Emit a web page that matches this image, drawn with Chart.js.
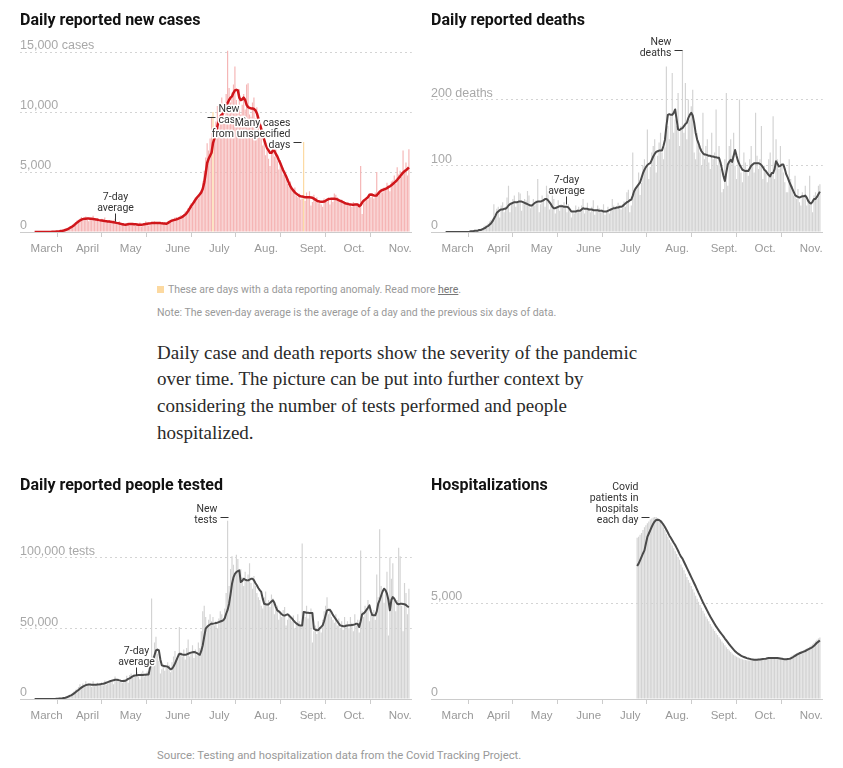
<!DOCTYPE html>
<html>
<head>
<meta charset="utf-8">
<script src="https://cdn.jsdelivr.net/npm/chart.js@4.4.0/dist/chart.umd.min.js"></script>
<style>
  body { margin: 0; width: 843px; height: 768px; position: relative; overflow: hidden; background: #fff; font-family: Roboto, "Liberation Sans", sans-serif; }
  canvas { position: absolute; }
  .title { position: absolute; font-weight: 700; font-size: 16px; line-height: 16px; color: #121212; z-index: 2; }
  .small { position: absolute; left: 157px; font-size: 10.5px; line-height: 12px; color: #999; white-space: nowrap; }
  .small u { color: #777; }
  .swatch { display: inline-block; width: 7px; height: 7px; background: #fcd9a0; margin-right: 4px; vertical-align: 0; }
  .para { position: absolute; left: 157px; top: 339.5px; font-family: "Liberation Serif", serif; font-size: 19px; line-height: 26.7px; color: #2a2a2a; white-space: nowrap; }
</style>
</head>
<body>

<canvas id="cases" width="421" height="262" style="left:0;top:0"></canvas>
<canvas id="deaths" width="421" height="262" style="left:411px;top:0"></canvas>
<canvas id="tests" width="421" height="262" style="left:0;top:467px"></canvas>
<canvas id="hosp" width="421" height="262" style="left:411px;top:467px"></canvas>

<div class="title" style="left:20px;top:12px">Daily reported new cases</div>
<div class="title" style="left:431px;top:12px">Daily reported deaths</div>
<div class="title" style="left:20px;top:477px">Daily reported people tested</div>
<div class="title" style="left:431px;top:477px">Hospitalizations</div>

<div class="small" style="top:284px"><span class="swatch"></span>These are days with a data reporting anomaly. Read more <u>here</u>.</div>
<div class="small" style="top:307px">Note: The seven-day average is the average of a day and the previous six days of data.</div>
<div class="para">Daily case and death reports show the severity of the pandemic<br>over time. The picture can be put into further context by<br>considering the number of tests performed and people<br>hospitalized.</div>
<div class="small" style="top:749.5px;font-size:11.3px">Source: Testing and hospitalization data from the Covid Tracking Project.</div>

<script>
// day 0 = March 1, last day = Nov. 12
const monthStarts = [0, 31, 61, 92, 122, 153, 184, 214, 245];
const monthLabels = ["March", "April", "May", "June", "July", "Aug.", "Sept.", "Oct.", "Nov."];

// ---------- CASES ----------
const caseTicks = [0, 5000, 10000, 15000];
const caseTickLabels = ["0", "5,000", "10,000", "15,000 cases"];
const caseAnomalyDays = [122, 184];
const caseDaily = [
  0,0,0,0,0,0,0,0,0,10,20,10,30,40,40,60,70,90,120,160,210,250,300,380,450,520,600,700,800,950,1020, // Mar
  1100,1250,980,1150,1300,1050,900,1200,1100,1350,950,1000,1150,850,1050,1100,900,1200,800,950,1000,780,900,950,1100,700,800,900,650,750, // Apr
  700,500,650,800,550,700,750,600,500,700,650,800,450,550,700,900,600,550,750,850,700,900,650,800,750,850,700,650,800,600,750, // May
  900,1000,1100,950,1200,1250,1100,1300,1400,1200,1500,1700,1650,2000,2200,2400,2100,2600,2900,3000,2800,3300,3500,4200,5100,6200,7400,6800,7800,9600, // Jun
  10000,8500,9200,10500,8700,9800,11200,10400,9600,11500,15100,12000,10800,11600,12300,13800,11000,10500,11900,9800,10600,11500,10200,12300,12400,9800,9600,10800,11200,9500,10400, // Jul
  9700,8000,8900,7200,7600,6400,7000,6100,5500,6800,7400,6300,6900,5900,5200,6000,5400,4800,5100,4400,4000,3800,4200,3500,3300,3700,3000,2900,3200,2700,2800, // Aug
  7500,2600,3300,2900,3400,2200,2500,3100,2700,2900,2400,2600,2300,2100,2800,2600,2500,2900,2300,2700,2500,3200,3100,2900,2600,2500,2700,2400,2500,2300, // Sep
  2300,2400,2200,2100,2500,2300,2400,2200,2100,5500,1500,2400,2600,2800,2700,3100,2900,3200,2800,3300,5000,3000,3400,3600,3300,3700,3500,4100,3800,3400,4200, // Oct
  4300,4700,4000,5400,4800,5100,4600,6800,5200,5800,4700,6900 // Nov
];
const caseAvg = [
  0,0,0,0,0,0,0,0,0,0,10,10,20,20,30,40,50,60,80,100,130,170,210,260,330,400,480,570,680,780,880,
  960,1030,1070,1100,1110,1120,1120,1110,1100,1090,1070,1050,1020,990,970,950,930,910,900,880,870,850,830,810,790,760,740,710,680,650,
  620,610,630,650,660,670,660,650,640,620,600,600,610,620,640,660,680,700,720,740,750,760,760,750,740,740,720,710,700,690,740,
  820,900,950,990,1020,1050,1100,1150,1200,1260,1350,1450,1580,1750,1950,2140,2320,2500,2700,2850,3000,3150,3300,3600,4100,4900,5750,6100,6350,6600,
  7400,7800,8250,8800,9350,9600,9800,9900,10200,10450,10750,11000,11200,11300,11600,11800,11850,11800,11200,11000,11050,11200,11000,10600,10400,10350,10300,10300,10250,10150,9900,
  9500,9000,8600,8100,7700,7300,7000,6800,6600,6600,6800,6750,6500,6300,6000,5750,5450,5150,4900,4650,4350,4050,3800,3600,3450,3300,3200,3100,3020,2970,2950,
  2930,2900,2900,2890,2890,2880,2850,2780,2700,2620,2560,2540,2530,2530,2540,2600,2680,2740,2760,2780,2780,2770,2760,2720,2650,2600,2550,2480,2420,2380,
  2350,2320,2300,2280,2280,2290,2300,2290,2150,2250,2450,2600,2700,2800,2900,3100,3120,3100,3050,3030,3050,3200,3350,3450,3500,3550,3600,3650,3750,3800,3900,
  4000,4100,4220,4350,4500,4640,4800,4950,5060,5150,5250,5390
];

// ---------- DEATHS ----------
const deathTicks = [0, 100, 200];
const deathTickLabels = ["0", "100", "200 deaths"];
const deathDaily = [
  0,0,0,0,0,0,0,0,0,0,0,0,0,0,0,0,0,1,0,2,1,3,2,4,3,6,8,10,9,13,16,
  18,20,42,28,35,38,22,40,45,30,38,52,70,30,42,50,55,38,45,60,58,32,44,50,48,62,55,36,40,50,
  40,48,80,30,42,55,50,38,70,62,34,40,58,50,28,36,48,32,42,40,45,38,30,42,36,22,30,28,40,34,38,
  30,40,50,28,34,44,36,30,38,48,26,32,40,36,30,34,42,26,30,38,28,34,50,40,36,38,44,40,34,42,
  46,38,60,64,30,40,120,58,68,70,90,56,74,100,110,96,155,80,98,120,130,140,90,115,135,150,120,110,128,250,160,
  140,175,240,150,170,160,210,130,160,275,150,225,140,200,170,190,215,120,110,150,130,120,100,180,110,130,140,105,95,150,110,
  120,185,100,130,95,60,65,110,210,70,130,140,115,150,100,80,110,200,90,75,120,105,95,85,110,130,100,90,180,115,
  95,110,160,80,100,90,75,110,120,85,175,80,140,110,95,130,100,90,75,60,60,110,80,70,55,85,50,65,45,40,60,
  55,70,40,50,85,45,30,55,60,50,70,72
];
const deathAvg = [
  0,0,0,0,0,0,0,0,0,0,0,0,0,0,0,0,0,1,1,1,2,2,2,3,3,4,5,6,8,9,11,
  13,16,20,24,29,31,33,34,34,35,35,37,40,42,43,44,45,45,45,46,46,46,45,44,43,42,41,40,40,42,
  44,45,46,46,46,47,48,50,50,48,45,42,38,36,36,37,38,39,39,39,38,38,38,37,34,31,31,31,31,32,32,
  32,34,36,35,35,35,34,34,34,33,33,33,33,32,32,32,31,31,31,32,33,34,35,36,36,37,37,38,38,39,
  41,43,45,46,48,49,55,62,66,69,72,75,82,89,94,98,101,103,104,109,114,118,121,122,123,123,123,130,139,160,177,
  178,177,177,180,185,170,155,154,156,157,160,163,165,172,177,180,176,165,150,140,134,127,122,119,117,117,116,115,115,114,114,
  113,113,112,112,105,95,85,77,90,102,106,109,106,115,124,115,107,102,98,94,93,92,92,92,96,100,102,104,104,104,
  104,103,101,98,94,92,89,86,84,89,89,95,107,103,99,100,102,102,95,87,82,76,71,66,61,56,54,53,52,53,54,
  54,55,52,47,44,43,46,50,50,53,57,61
];

// ---------- TESTS ----------
const testTicks = [0, 50000, 100000];
const testTickLabels = ["0", "50,000", "100,000 tests"];
const testDaily = [
  0,0,0,0,0,0,0,0,0,0,0,0,0,0,100,200,300,400,600,800,1000,1500,2000,2500,3000,3800,4500,5500,6500,7200,8500,
  10500,9000,11000,8500,12500,9500,11000,10000,8500,12500,9000,10500,11500,9000,10500,12000,9500,13000,10000,11000,13500,12000,14000,10500,16000,13500,14500,12000,13500,11500,
  14000,13000,16500,11500,17000,18000,15000,17500,15500,19000,16000,14000,18500,20000,16000,18000,19500,17000,22000,71000,30000,40000,44000,32000,27000,18000,21000,24000,20000,22000,26000,
  24000,19000,26000,30000,34000,28000,32000,51000,33000,30000,35000,28000,36000,42000,30000,33000,38000,29000,35000,31000,40000,36000,48000,62000,66000,58000,52000,56000,60000,55000,
  58000,52000,55000,50000,57000,62000,60000,55000,64000,75000,126000,80000,92000,101000,95000,88000,102000,99000,90000,92000,86000,80000,90000,84000,88000,96000,82000,78000,87000,80000,75000,
  72000,70000,66000,64000,72000,76000,68000,70000,65000,74000,71000,60000,64000,66000,56000,62000,58000,63000,65000,52000,56000,60000,57000,55000,59000,50000,54000,60000,55000,52000,110000,
  62000,58000,66000,57000,60000,64000,40000,48000,52000,46000,55000,50000,47000,56000,62000,66000,72000,60000,64000,58000,56000,54000,60000,52000,57000,50000,55000,49000,58000,53000,
  55000,50000,58000,54000,48000,60000,52000,56000,47000,105000,62000,58000,66000,62000,70000,55000,60000,58000,63000,56000,88000,72000,120000,80000,74000,68000,78000,90000,45000,100000,85000,
  96000,72000,62000,70000,107000,101000,66000,48000,82000,75000,60000,78000
];
const testAvg = [
  0,0,0,0,0,0,0,0,0,0,0,0,0,0,0,100,200,300,400,500,700,900,1200,1700,2200,2600,3200,4000,4800,5600,6400,
  7300,8000,8700,9300,9800,10100,10200,10200,10100,10000,10000,10100,10200,10300,10500,10700,10800,11100,11500,11900,12300,12700,13000,13300,13600,13700,13500,13200,12900,12700,
  12700,12900,13500,14200,14600,15300,16000,16500,16700,16800,16900,17000,17000,17000,17100,17200,17300,17400,22600,25000,27300,31000,34400,35000,34400,28000,23800,23500,23200,23100,22800,
  22000,21000,21500,23000,25000,27500,30000,32000,31800,31500,31300,31300,31500,32000,32500,32800,33000,33200,33000,32500,31800,31300,34000,38000,44000,49700,51000,52000,52700,53300,
  53300,53500,53800,54000,54400,54800,55200,55600,57000,60300,63000,67400,74000,81500,86000,88500,89800,90500,91000,82700,83500,85100,84500,84000,83900,84500,85000,85100,84000,82000,80400,
  78500,77000,75700,71000,67400,67000,66800,66900,68000,69000,69800,68000,65000,62700,62000,61000,60000,59200,59000,59500,59900,59000,58000,57000,55600,54500,53500,52800,52100,52000,52000,
  61500,61300,61000,61000,60900,60800,60800,49700,49000,48600,48800,50000,51000,52100,55000,59000,62700,63200,63000,61500,59500,58000,56500,55000,53500,52100,51800,51500,51500,51800,
  52000,52100,52100,52300,52500,52800,53300,53000,50900,55000,59900,60500,61500,63000,64500,66200,62000,59200,59200,59200,62000,67400,70000,73000,76000,78000,77000,74500,70000,62700,70000,
  72100,71000,69000,67400,67000,67300,67400,67200,67000,66500,65500,65000
];

// ---------- HOSPITALIZATIONS (from July 10) ----------
const hospStart = 131;
const hospTicks = [0, 5000];
const hospTickLabels = ["0", "5,000"];
const hospDaily = [
  8400,8450,8550,8650,8800,8950,9050,9150,9250,9350,
  9400,9450,9480,9480,9420,9350,9250,9100,8950,8800,
  8600,8450,8300,8150,8000,7850,7700,7550,7400,7250,
  7000,6850,6700,6520,6350,6200,6050,5880,5720,5550,
  5380,5220,5060,4900,4750,4600,4450,4300,4180,4050,
  3900,3780,3660,3540,3430,3330,3220,3110,3000,2900,
  2800,2700,2610,2530,2450,2370,2300,2250,2200,2160,
  2120,2090,2070,2050,2030,2020,2010,2010,2010,2020,
  2040,2050,2060,2070,2080,2090,2100,2110,2120,2130,
  2140,2140,2130,2130,2120,2110,2100,2090,2080,2070,
  2060,2060,2080,2100,2140,2200,2260,2310,2350,2390,
  2420,2450,2480,2510,2550,2590,2630,2670,2720,2780,
  2850,2930,3010,3090,3150,3200
];
const hospAvg = [
  6930,7050,7220,7400,7580,7740,8100,8440,8620,8800,
  8970,9130,9250,9320,9340,9320,9270,9180,9080,8960,
  8820,8670,8520,8400,8270,8140,8020,7870,7720,7560,
  7410,7310,7150,6990,6830,6670,6510,6350,6190,6030,
  5870,5700,5530,5370,5200,5040,4890,4740,4590,4440,
  4300,4170,4040,3910,3780,3670,3560,3460,3360,3260,
  3150,3050,2950,2850,2750,2660,2570,2490,2420,2360,
  2310,2260,2220,2190,2160,2130,2110,2090,2070,2060,
  2050,2050,2050,2060,2060,2070,2080,2090,2100,2120,
  2130,2140,2140,2140,2140,2140,2130,2120,2110,2100,
  2080,2070,2070,2080,2090,2110,2150,2200,2250,2300,
  2340,2380,2410,2440,2470,2500,2540,2580,2620,2660,
  2710,2770,2850,2930,2990,3050
];

// ---------- ANNOTATIONS ----------
const notePlugin = {
  id: "notes",
  afterDatasetsDraw(chart, args, opts) {
    const { ctx } = chart;
    const xs = chart.scales.x, ys = chart.scales.y;
    ctx.save();
    ctx.font = "10.5px Roboto, sans-serif";
    ctx.lineJoin = "round";
    (opts.items || []).forEach(n => {
      const px = Math.round(xs.getPixelForValue(n.day)) + 0.5;
      const py = Math.round(ys.getPixelForValue(n.value)) + 0.5;
      let tx, base;
      ctx.strokeStyle = "#333";
      ctx.lineWidth = 1;
      ctx.beginPath();
      if (n.dir === "up") {
        ctx.moveTo(px, py - 2); ctx.lineTo(px, py - 10);
        tx = px; ctx.textAlign = "center"; base = py - 12.5;
      } else if (n.dir === "left") {
        ctx.moveTo(px - 1, py); ctx.lineTo(px - 9, py);
        tx = px - 12; ctx.textAlign = "right"; base = py + 5;
      } else {
        ctx.moveTo(px + 1, py); ctx.lineTo(px + 9, py);
        tx = px + 12; ctx.textAlign = "left"; base = py + 5;
      }
      ctx.stroke();
      ctx.textBaseline = "alphabetic";
      n.lines.forEach((t, i) => {
        const ty = base - 11 * (n.lines.length - 1 - i);
        ctx.lineWidth = 3; ctx.strokeStyle = "#fff";
        ctx.strokeText(t, tx, ty);
        ctx.fillStyle = "#333";
        ctx.fillText(t, tx, ty);
      });
    });
    ctx.restore();
  }
};

// ---------- CHART BUILDER ----------
function points(values, start) {
  return values.map((v, i) => ({ x: start + i, y: v }));
}

function buildChart(id, o) {
  return new Chart(document.getElementById(id), {
    type: "bar",
    data: {
      datasets: [
        {
          type: "line",
          data: points(o.avg, o.start),
          borderColor: o.lineColor,
          borderWidth: o.lineWidth,
          pointRadius: 0,
          tension: 0,
          borderJoinStyle: "round",
          order: 0,
        },
        {
          type: "bar",
          data: points(o.daily, o.start),
          backgroundColor: o.barColor,
          barPercentage: 1,
          categoryPercentage: 0.8,
          order: 1,
        },
      ],
    },
    options: {
      responsive: false,
      animation: false,
      events: [],
      layout: { padding: { left: 20, right: 8, top: 40, bottom: 0 } },
      plugins: {
        legend: { display: false },
        tooltip: { enabled: false },
        notes: { items: o.notes },
      },
      scales: {
        x: {
          type: "linear",
          min: -10,
          max: 258,
          offset: false,
          afterBuildTicks: s => { s.ticks = monthStarts.map(v => ({ value: v })); },
          afterFit: s => { s.height = 30; },
          grid: { drawOnChartArea: false, drawTicks: true, tickLength: 5, color: "#ccc" },
          border: { color: "#ccc" },
          ticks: {
            autoSkip: false,
            maxRotation: 0,
            align: "start",
            labelOffset: -4,
            padding: 5,
            color: "#999",
            font: { size: 11.5 },
            callback: v => monthLabels[monthStarts.indexOf(v)],
          },
        },
        y: {
          type: "linear",
          min: 0,
          max: o.max,
          afterBuildTicks: s => { s.ticks = o.ticks.map(v => ({ value: v })); },
          afterFit: s => { s.width = 0; },
          grid: {
            drawTicks: false,
            color: c => (c.tick && c.tick.value === 0 ? "rgba(0,0,0,0)" : "#d4d4d4"),
          },
          border: { display: false, dash: [2, 3] },
          ticks: {
            mirror: true,
            padding: 0,
            labelOffset: -6,
            color: "#a8a8a8",
            font: { size: 12.5 },
            callback: v => o.tickLabels[o.ticks.indexOf(v)],
          },
        },
      },
    },
    plugins: [notePlugin],
  });
}

buildChart("cases", {
  daily: caseDaily, avg: caseAvg, start: 0,
  barColor: caseDaily.map((v, i) => (caseAnomalyDays.includes(i) ? "#fcd9a0" : "#f5b5b5")),
  lineColor: "#d0161b", lineWidth: 2.5,
  max: 16000, ticks: caseTicks, tickLabels: caseTickLabels,
  notes: [
    { day: 55, value: caseAvg[55], dir: "up", lines: ["7-day", "average"] },
    { day: 117.5, value: 9580, dir: "right", lines: ["New", "cases"] },
    { day: 183, value: 7480, dir: "left", lines: ["Many cases", "from unspecified", "days"] },
  ],
});

buildChart("deaths", {
  daily: deathDaily, avg: deathAvg, start: 0,
  barColor: "#d3d3d3", lineColor: "#4a4a4a", lineWidth: 2,
  max: 290, ticks: deathTicks, tickLabels: deathTickLabels,
  notes: [
    { day: 82, value: 39, dir: "up", lines: ["7-day", "average"] },
    { day: 162.5, value: 275, dir: "left", lines: ["New", "deaths"] },
  ],
});

buildChart("tests", {
  daily: testDaily, avg: testAvg, start: 0,
  barColor: "#d3d3d3", lineColor: "#4a4a4a", lineWidth: 2,
  max: 135800, ticks: testTicks, tickLabels: testTickLabels,
  notes: [
    { day: 69.6, value: 15600, dir: "up", lines: ["7-day", "average"] },
    { day: 132.7, value: 128900, dir: "left", lines: ["New", "tests"] },
  ],
});

buildChart("hosp", {
  daily: hospDaily, avg: hospAvg, start: hospStart,
  barColor: "#d3d3d3", lineColor: "#4a4a4a", lineWidth: 2,
  max: 10000, ticks: hospTicks, tickLabels: hospTickLabels,
  notes: [
    { day: 140, value: 9495, dir: "left", lines: ["Covid", "patients in", "hospitals", "each day"] },
  ],
});
</script>
</body>
</html>
